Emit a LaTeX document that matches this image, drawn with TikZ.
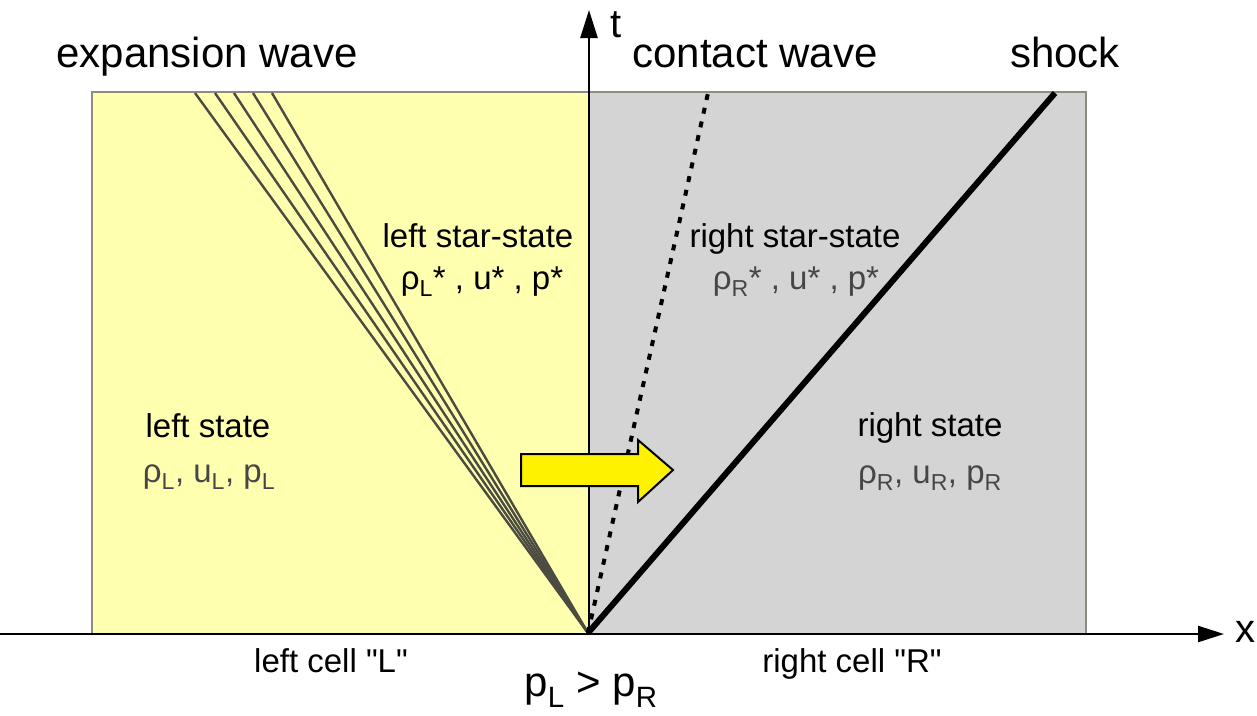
\documentclass[tikz,border=0pt]{standalone}
\usepackage{fontspec}
\setmainfont{Liberation Sans}
\newfontfamily\nolig{Liberation Sans}
\usetikzlibrary{arrows.meta}
\definecolor{paleyellow}{RGB}{255,255,176}
\definecolor{cellgray}{RGB}{212,212,212}
\definecolor{edgegray}{RGB}{140,140,130}
\definecolor{fangray}{RGB}{75,75,65}
\definecolor{subtext}{RGB}{70,70,70}
\newcommand{\sbs}[1]{\textsubscript{#1}}
\newcommand{\dq}{{\nolig"}}
\begin{document}
\begin{tikzpicture}[x=1pt,y=-1pt,
  big/.style={font=\fontsize{42}{48}\selectfont, inner sep=0pt, anchor=base},
  lbl/.style={font=\fontsize{33}{38}\selectfont, inner sep=0pt, anchor=base},
  axislabel/.style={font=\fontsize{40}{46}\selectfont, inner sep=0pt, anchor=base},
  fanline/.style={fangray, line width=2.4pt},
  axis/.style={line width=2.5pt, -{Triangle[length=28pt,width=17pt]}},
  cellbox/.style={draw=edgegray, line width=1.8pt}]
\useasboundingbox (0,0) rectangle (1257,715);
% cells
\fill[paleyellow] (92,92) rectangle (588,634);
\fill[cellgray] (588,92) rectangle (1086,634);
\draw[cellbox] (588,634) -- (92,634) -- (92,92) -- (1086,92) -- (1086,634);
% coordinates
\coordinate (O) at (588,633);
\coordinate (f1) at (195,93);
\coordinate (f2) at (215,93);
\coordinate (f3) at (234,93);
\coordinate (f4) at (253,93);
\coordinate (f5) at (272,93);
\coordinate (cw) at (708,93);
\coordinate (sh) at (1055,93);
\coordinate (xs) at (0,634);
\coordinate (xe) at (1224,634);
\coordinate (te) at (589,10);
% expansion fan
\foreach \f in {f1,f2,f3,f4,f5} \draw[fanline] (O) -- (\f);
% contact wave
\draw[line width=4pt, dash pattern=on 6pt off 8pt] (O) -- (cw);
% shock
\draw[line width=6pt] (O) -- (sh);
% axes
\draw[axis, -{Triangle[length=26pt,width=16pt]}] (xs) -- (xe);
\draw[axis] (589,634) -- (te);
% yellow arrow
\draw[fill=yellow, line width=2pt, line join=miter]
  (521,454) -- (638,454) -- (638,440) -- (673,470) -- (638,502) -- (638,486) -- (521,486) -- cycle;
% labels
\node[big] (lexp) at (207,67) {expansion wave};
\node[big] (lcon) at (755,67) {contact wave};
\node[big] (lsho) at (1065,67) {shock};
\node[axislabel] (lt) at (616,37) {t};
\node[axislabel] (lx) at (1245,642) {x};
\node[lbl] (lss) at (478,247) {left star-state};
\node[lbl] (lssv) at (482,289) {ρ\sbs{L}* , u* , p*};
\node[lbl] (rss) at (795,247) {right star-state};
\node[lbl, text=subtext] (rssv) at (796,289) {ρ\sbs{R}* , u* , p*};
\node[lbl] (ls) at (208,437) {left state};
\node[lbl, text=subtext] (lsv) at (209,482) {ρ\sbs{L}, u\sbs{L}, p\sbs{L}};
\node[lbl] (rs) at (930,436) {right state};
\node[lbl, text=subtext] (rsv) at (930,483) {ρ\sbs{R}, u\sbs{R}, p\sbs{R}};
\node[lbl] (lc) at (331,672) {left cell \dq L\dq};
\node[lbl] (rc) at (852,672) {right cell \dq R\dq};
\node[big] (pp) at (591,696) {p\sbs{L} > p\sbs{R}};
\end{tikzpicture}
\end{document}
